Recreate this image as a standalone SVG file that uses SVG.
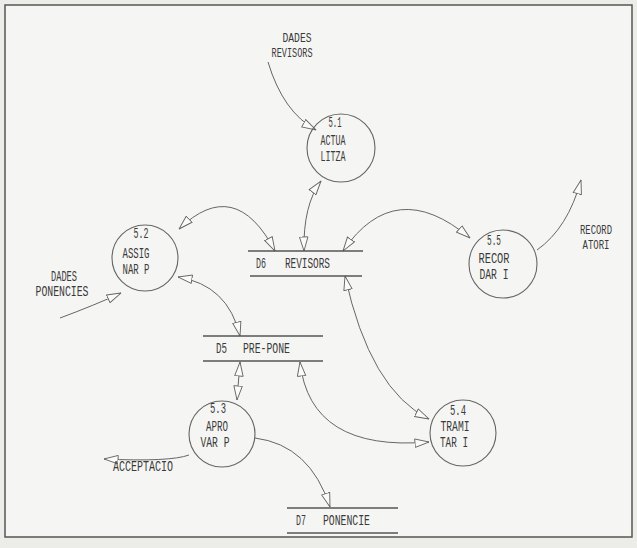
<svg xmlns="http://www.w3.org/2000/svg" width="637" height="548" viewBox="0 0 637 548">
<defs>
<style>
.bg{fill:#ecece9}
.frame{fill:#f5f5f3;stroke:#555;stroke-width:1.5}
.proc{fill:none;stroke:#666;stroke-width:1.1}
.store{stroke:#555;stroke-width:1.3}
.flow{fill:none;stroke:#666;stroke-width:1;marker-end:url(#ah)}
.bi{marker-start:url(#ah)}
text{font-family:"Liberation Mono","DejaVu Sans Mono",monospace;font-size:14px;fill:#3a3a3a}
.c{text-anchor:middle}
.s{font-size:12px}
</style>
<marker id="ah" viewBox="0 0 16 10" refX="15.5" refY="5" markerWidth="15" markerHeight="10" markerUnits="userSpaceOnUse" orient="auto-start-reverse">
<path d="M0.5,0.5 L15.5,5 L0.5,9.5 z" fill="#fbfbfa" stroke="#666" stroke-width="1"/>
</marker>
</defs>
<rect class="bg" x="0" y="0" width="637" height="548"/>
<rect class="frame" x="5" y="5" width="627" height="532"/>

<g id="connectors">
<path class="flow" d="M268,62 Q283,112 316,130"/>
<path class="flow bi" d="M304,251 Q303,205 321,181"/>
<path class="flow bi" d="M275,251 Q235,175 179,229"/>
<path class="flow bi" d="M343,251 Q395,175 470,238"/>
<path class="flow bi" d="M345,276 Q370,390 429,419"/>
<path class="flow bi" d="M178,277 Q228,285 240,336"/>
<path class="flow bi" d="M240,362 L237,400"/>
<path class="flow" d="M255,438 Q310,445 330,507"/>
<path class="flow bi" d="M300,362 Q310,452 429,442"/>
<path class="flow" d="M537,250 Q568,228 581,180"/>
<path class="flow" d="M60,318 Q95,305 121,293"/>
<path class="flow" d="M189,455 Q170,462 104,459"/>
</g>

<g id="ext-dades-revisors">
<text class="c s" x="297" y="42" textLength="29" lengthAdjust="spacingAndGlyphs">DADES</text>
<text class="c s" x="292" y="57" textLength="41" lengthAdjust="spacingAndGlyphs">REVISORS</text>
</g>
<g id="ext-dades-ponencies">
<text class="c" x="64" y="281" textLength="26" lengthAdjust="spacingAndGlyphs">DADES</text>
<text class="c" x="62" y="296" textLength="53" lengthAdjust="spacingAndGlyphs">PONENCIES</text>
</g>
<g id="ext-recordatori">
<text class="c s" x="596" y="234" textLength="32" lengthAdjust="spacingAndGlyphs">RECORD</text>
<text class="c s" x="596" y="249" textLength="27" lengthAdjust="spacingAndGlyphs">ATORI</text>
</g>
<g id="ext-acceptacio">
<text x="113" y="471" textLength="60" lengthAdjust="spacingAndGlyphs">ACCEPTACIO</text>
</g>

<g id="p51">
<circle class="proc" cx="341" cy="148" r="34"/>
<text class="c" x="335" y="127" textLength="13" lengthAdjust="spacingAndGlyphs">5.1</text>
<text class="c" x="333" y="145" textLength="25" lengthAdjust="spacingAndGlyphs">ACTUA</text>
<text class="c" x="333" y="161" textLength="25" lengthAdjust="spacingAndGlyphs">LITZA</text>
</g>
<g id="p52">
<circle class="proc" cx="145" cy="258" r="33"/>
<text class="c" x="141" y="238" textLength="15" lengthAdjust="spacingAndGlyphs">5.2</text>
<text class="c" x="136" y="258" textLength="27" lengthAdjust="spacingAndGlyphs">ASSIG</text>
<text class="c" x="136" y="274" textLength="27" lengthAdjust="spacingAndGlyphs">NAR P</text>
</g>
<g id="p53">
<circle class="proc" cx="222" cy="434" r="33"/>
<text class="c" x="218" y="413" textLength="16" lengthAdjust="spacingAndGlyphs">5.3</text>
<text class="c" x="217" y="431" textLength="22" lengthAdjust="spacingAndGlyphs">APRO</text>
<text class="c" x="215" y="447" textLength="29" lengthAdjust="spacingAndGlyphs">VAR P</text>
</g>
<g id="p54">
<circle class="proc" cx="463" cy="433" r="33"/>
<text class="c" x="458" y="415" textLength="16" lengthAdjust="spacingAndGlyphs">5.4</text>
<text class="c" x="455" y="431" textLength="29" lengthAdjust="spacingAndGlyphs">TRAMI</text>
<text class="c" x="454" y="447" textLength="28" lengthAdjust="spacingAndGlyphs">TAR I</text>
</g>
<g id="p55">
<circle class="proc" cx="503" cy="264" r="34"/>
<text class="c" x="494" y="245" textLength="14" lengthAdjust="spacingAndGlyphs">5.5</text>
<text class="c" x="494" y="263" textLength="31" lengthAdjust="spacingAndGlyphs">RECOR</text>
<text class="c" x="494" y="279" textLength="29" lengthAdjust="spacingAndGlyphs">DAR I</text>
</g>

<g id="d6">
<line class="store" x1="248" y1="251" x2="363" y2="251"/>
<line class="store" x1="250" y1="276" x2="362" y2="276"/>
<text x="256" y="268" textLength="10" lengthAdjust="spacingAndGlyphs">D6</text>
<text x="285" y="268" textLength="45" lengthAdjust="spacingAndGlyphs">REVISORS</text>
</g>
<g id="d5">
<line class="store" x1="203" y1="336" x2="323" y2="336"/>
<line class="store" x1="203" y1="361" x2="323" y2="361"/>
<text x="216" y="353" textLength="11" lengthAdjust="spacingAndGlyphs">D5</text>
<text x="243" y="353" textLength="47" lengthAdjust="spacingAndGlyphs">PRE-PONE</text>
</g>
<g id="d7">
<line class="store" x1="287" y1="508" x2="398" y2="508"/>
<line class="store" x1="287" y1="533" x2="398" y2="533"/>
<text x="296" y="525" textLength="10" lengthAdjust="spacingAndGlyphs">D7</text>
<text x="323" y="525" textLength="47" lengthAdjust="spacingAndGlyphs">PONENCIE</text>
</g>
</svg>
